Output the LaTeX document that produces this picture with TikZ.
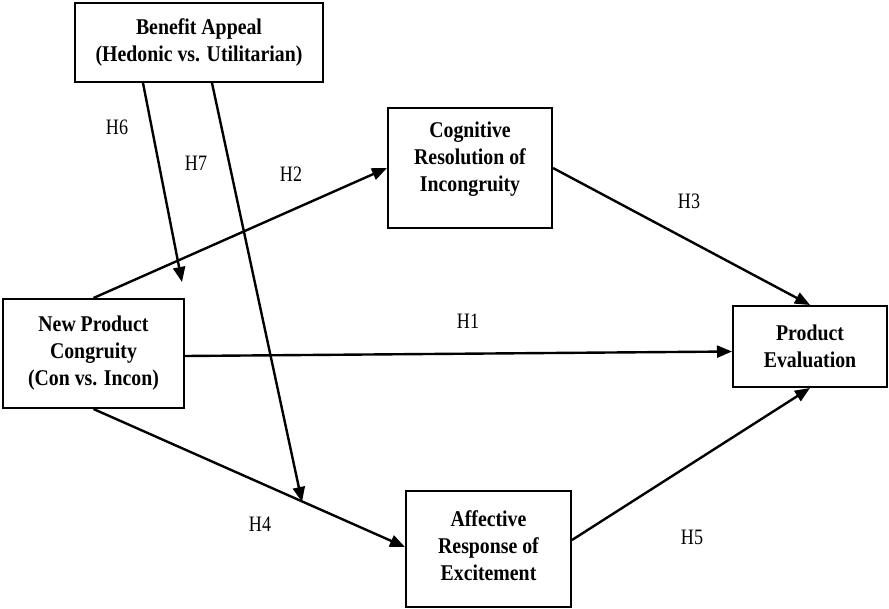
\documentclass[tikz,border=0pt]{standalone}
\usepackage{fontspec}
\setmainfont{Liberation Serif}
\newfontfamily\boxfont[FakeStretch=0.88]{Liberation Serif}
\newfontfamily\hypfont[FakeStretch=0.82]{Liberation Serif}
\usetikzlibrary{arrows.meta}
\tikzset{
  boxtext/.style={align=center, inner sep=0pt,
    font=\boxfont\bfseries\fontsize{22.5}{27}\selectfont},
  construct/.style={boxtext, draw, line width=2pt},
  path/.style={line width=2.4pt, -{Triangle[length=15pt,width=12pt]}},
  hyp/.style={font=\hypfont\fontsize{22}{26}\selectfont, inner sep=0pt},
}
\begin{document}
\begin{tikzpicture}[x=1pt, y=-1pt]
  \useasboundingbox (0,0) rectangle (889,608);

  % constructs
  \node[construct, minimum width=248pt, minimum height=79pt] (ba) at (199,42.5)
    {Benefit Appeal\\(Hedonic vs. Utilitarian)};
  \node[construct, minimum width=181pt, minimum height=109pt] (np) at (93.5,353.5)
    {New Product\\Congruity\\(Con vs. Incon)};
  \node[construct, minimum width=164pt, minimum height=120pt] (cr) at (470,168) {};
  \node[boxtext] (crtext) at (470,159)
    {Cognitive\\Resolution of\\Incongruity};
  \node[construct, minimum width=154pt, minimum height=81pt] (pe) at (810,346.5)
    {Product\\Evaluation};
  \node[construct, minimum width=165pt, minimum height=116pt] (ar) at (488.5,549) {};
  \node[boxtext] (artext) at (488.5,546)
    {Affective\\Response of\\Excitement};

  % moderation targets (ends of H6 and H7)
  \coordinate (h6end) at (182,282);
  \coordinate (h7end) at (302,502);

  % hypothesised paths
  \draw[path] (np.north) -- (cr.west);
  \draw[path] ([yshift=-2.5pt]np.east) -- ([yshift=-5pt]pe.west);
  \draw[path] (cr.east) -- (pe.north);
  \draw[path] (np.south) -- ([yshift=2pt]ar.west);
  \draw[path] ([yshift=9pt]ar.east) -- (pe.south);
  \draw[path] ([xshift=-56pt]ba.south) -- (h6end);
  \draw[path] ([xshift=13pt]ba.south) -- (h7end);

  % hypothesis labels
  \node[hyp] (l1) at (468,321) {H1};
  \node[hyp] (l2) at (291,174) {H2};
  \node[hyp] (l3) at (689,201) {H3};
  \node[hyp] (l4) at (260,524) {H4};
  \node[hyp] (l5) at (692,537) {H5};
  \node[hyp] (l6) at (117,127) {H6};
  \node[hyp] (l7) at (196,163) {H7};
\end{tikzpicture}
\end{document}
